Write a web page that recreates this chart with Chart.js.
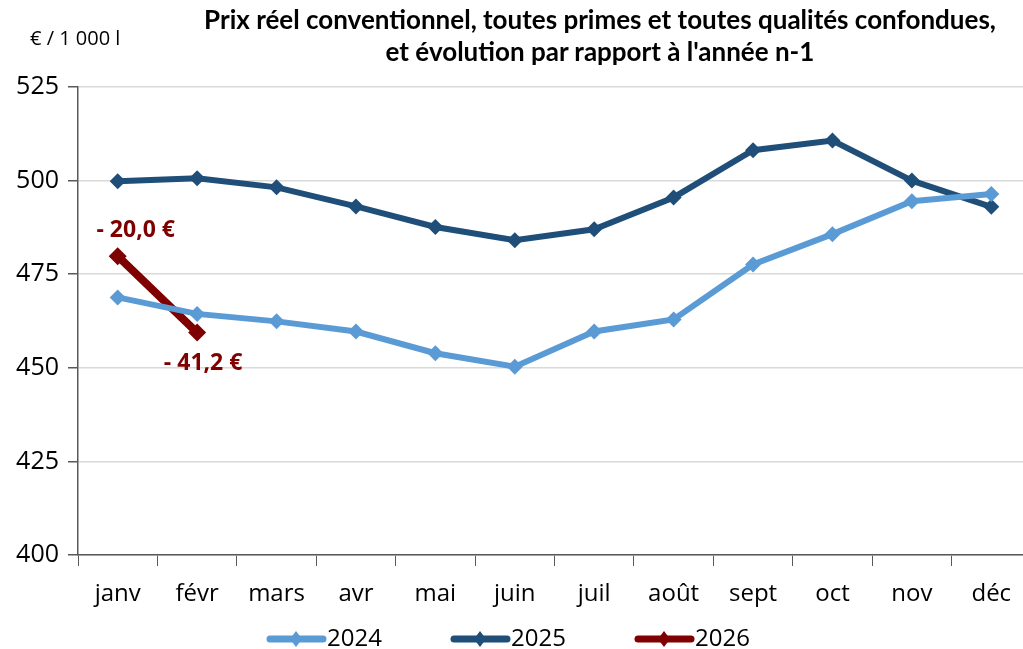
<!DOCTYPE html>
<html><head><meta charset="utf-8">
<script src="https://cdn.jsdelivr.net/npm/chart.js@4"></script>
<style>
html,body{margin:0;padding:0;overflow:hidden;background:#fff;width:1023px;height:649px;}
#wrap{position:absolute;left:0;top:0;width:1040px;height:649px;}
#title{position:absolute;left:180px;width:840px;top:3px;text-align:center;font-family:Lato,sans-serif;font-weight:700;font-size:26px;line-height:32px;color:#000;}
#unit{position:absolute;left:30px;top:24px;font-family:'Open Sans',sans-serif;font-size:20px;color:#000;}
</style></head><body>
<div id="wrap"><canvas id="c" width="1040" height="649"></canvas></div>
<div id="title">Prix réel conventionnel, toutes primes et toutes qualités confondues,<br>et évolution par rapport à l'année n-1</div>
<div id="unit">€ / 1 000 l</div>
<script>
const months = ['janv','févr','mars','avr','mai','juin','juil','août','sept','oct','nov','déc'];
const s2024 = [468.8,464.4,462.4,459.7,453.9,450.3,459.7,462.9,477.6,485.7,494.5,496.4];
const s2025 = [499.8,500.6,498.2,493.1,487.6,484.1,487.0,495.5,508.1,510.7,500.0,493.0];
const s2026 = [479.8,459.4];
const labels2026 = ['- 20,0 €','- 41,2 €'];
const yTicks = [400,425,450,475,500,525];
const C24='#5B9BD5', C25='#1F4E79', C26='#7F0000';
const FONT="'Open Sans', sans-serif";

const dataLabelPlugin = {
  id:'dl',
  afterDatasetsDraw(chart){
    const ctx=chart.ctx;
    const meta=chart.getDatasetMeta(2);
    ctx.save();
    ctx.font='bold 23px '+FONT;
    ctx.fillStyle=C26;
    ctx.textAlign='center';ctx.textBaseline='middle';
    const offs=[[18,-26],[6,31]];
    meta.data.forEach((p,i)=>{ctx.fillText(labels2026[i],p.x+offs[i][0],p.y+offs[i][1]);});
    ctx.restore();
  }
};
const legendPlugin = {
  id:'lg',
  afterDraw(chart){
    const ctx=chart.ctx;
    const items=[[267,'2024',C24],[451,'2025',C25],[635,'2026',C26]];
    const y=639;
    ctx.save();
    items.forEach(([x,t,c])=>{
      ctx.strokeStyle=c;ctx.lineWidth=7;ctx.lineCap='round';
      ctx.beginPath();ctx.moveTo(x+3,y);ctx.lineTo(x+56,y);ctx.stroke();
      ctx.fillStyle=c;ctx.beginPath();
      const cx=x+29;ctx.moveTo(cx,y-8);ctx.lineTo(cx+6,y);ctx.lineTo(cx,y+8);ctx.lineTo(cx-6,y);ctx.closePath();ctx.fill();
      ctx.fillStyle='#000';ctx.font='24px '+FONT;ctx.textAlign='left';ctx.textBaseline='middle';
      ctx.fillText(t,x+60,y);
    });
    ctx.restore();
  }
};

function ds(label,data,color,w,r){
  return {label,data,borderColor:color,backgroundColor:color,borderWidth:w,pointStyle:'rectRot',pointRadius:r,pointHoverRadius:r,pointBorderWidth:0,tension:0,clip:false};
}
new Chart(document.getElementById('c'),{
  type:'line',
  data:{labels:months,datasets:[ds('2024',s2024,C24,6,8),ds('2025',s2025,C25,6,8),ds('2026',s2026,C26,8,9)]},
  options:{
    responsive:false,animation:false,
    layout:{padding:{top:87,right:7,bottom:38,left:0}},
    plugins:{legend:{display:false},title:{display:false},tooltip:{enabled:false}},
    scales:{
      x:{offset:true,
        grid:{offset:true,drawOnChartArea:false,drawTicks:true,tickLength:11,color:'#595959',lineWidth:1},
        border:{display:true,color:'#595959',width:1.5},
        ticks:{font:{family:FONT,size:24},color:'#000',padding:14,maxRotation:0,autoSkip:false},
        afterFit(s){s.height=56;}
      },
      y:{min:400,max:525,
        afterBuildTicks(s){s.ticks=yTicks.map(v=>({value:v}));},
        grid:{color:'#d9d9d9',lineWidth:1.5,tickLength:10,tickColor:'#595959'},
        border:{display:true,color:'#595959',width:1.5},
        ticks:{font:{family:FONT,size:25},color:'#000',padding:9},
        afterFit(s){s.width=78;}
      }
    }
  },
  plugins:[dataLabelPlugin,legendPlugin]
});
</script>
</body></html>
